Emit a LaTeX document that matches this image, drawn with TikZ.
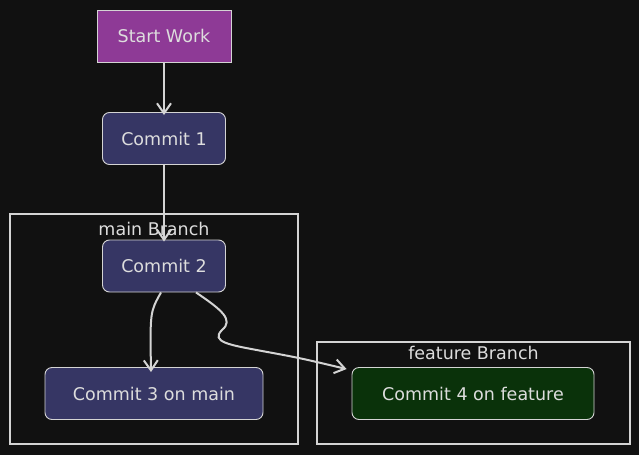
\documentclass[tikz,border=0pt]{standalone}
\usepackage{fontspec}
\setmainfont{DejaVu Sans}
\usepackage{xcolor}
\definecolor{BgBlack}{HTML}{111111}
\definecolor{LineGrey}{HTML}{D4D4D4}
\definecolor{TextGrey}{HTML}{DDDDDD}
\definecolor{StartPurple}{HTML}{8E3A96}
\definecolor{CommitBlue}{HTML}{363664}
\definecolor{FeatureGreen}{HTML}{0A320A}
\usepackage{tikz}
\usetikzlibrary{arrows.meta,positioning}
\newcommand\BoxHeight{52}
\newcommand\FontSet{\fontsize{17.5}{20}\selectfont}
\tikzstyle{commit}=[rectangle,rounded corners=7pt,draw=LineGrey,line width=0.9pt,
                     text=TextGrey,font=\FontSet,minimum height=\BoxHeight]
\tikzstyle{cluster}=[rectangle,draw=LineGrey,line width=1.6pt,inner sep=0pt]
\tikzstyle{clusterlabel}=[text=TextGrey,font=\FontSet,inner sep=1pt,anchor=north]
\tikzstyle{flow}=[draw=LineGrey,line width=2pt,-{Straight Barb[length=10pt,width=14pt]}]

\begin{document}
\begin{tikzpicture}[x=1pt,y=-1pt]
      \fill[BgBlack] (0,0) rectangle (639,455);
      \useasboundingbox (0,0) rectangle (639,455);
      % branch boxes
      \node[cluster,minimum width=288,minimum height=230] (mainbox) at (154,329) {};
      \node[clusterlabel] (mainlabel) at ([yshift=-8]mainbox.north) {main Branch};
      \node[cluster,minimum width=313,minimum height=102] (featurebox) at (473.5,393) {};
      \node[clusterlabel] (featurelabel) at ([yshift=-4]featurebox.north) {feature Branch};
      % commits
      \node[rectangle,draw=LineGrey,line width=0.9pt,fill=StartPurple,text=TextGrey,font=\FontSet,
            minimum width=134,minimum height=\BoxHeight] (start) at (164,36) {Start Work};
      \node[commit,fill=CommitBlue,minimum width=123] (commit1) at (164,138.5) {Commit 1};
      \node[commit,fill=CommitBlue,minimum width=123] (commit2) at (164,266) {Commit 2};
      \node[commit,fill=CommitBlue,minimum width=218] (commit3) at (154,393.5) {Commit 3 on main};
      \node[commit,fill=FeatureGreen,minimum width=242] (commit4) at (473,393.5) {Commit 4 on feature};
      % arrows
      \draw[flow] (start) -- ([yshift=-3]commit1.north);
      \draw[flow] (commit1) -- ([yshift=-2]commit2.north);
      \draw[flow] ([xshift=-3]commit2.south) .. controls (150,312) .. ([xshift=-3,yshift=-5]commit3.north);
      \draw[flow] ([xshift=32]commit2.south) .. controls (222,310) and (234,320) .. (222,330)
                  .. controls (210,342) and (230,345) .. (262,351)
                  .. controls (300,358) .. ([xshift=-5,yshift=-2]commit4.north west);
   \end{tikzpicture}
\end{document}
